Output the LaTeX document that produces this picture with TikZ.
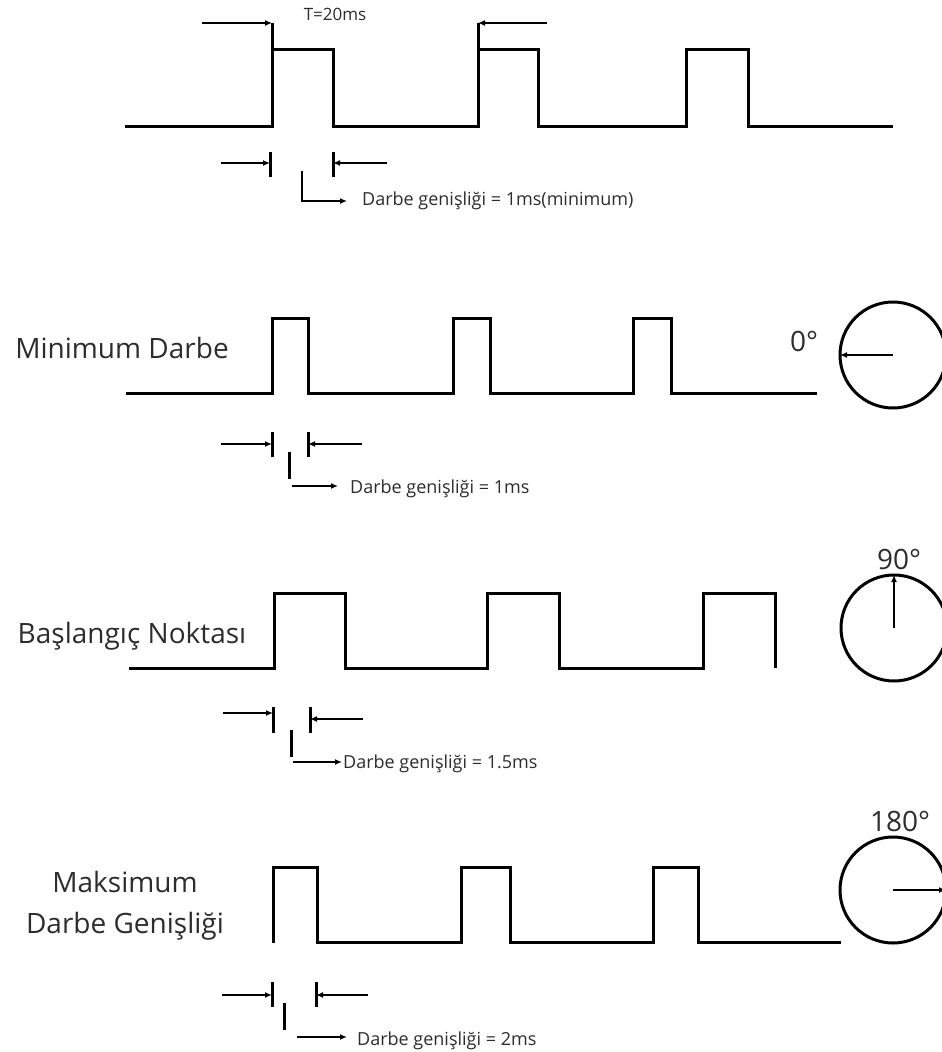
\documentclass[tikz,border=0pt]{standalone}
\usepackage{fontspec}
\setmainfont{Open Sans}
\usetikzlibrary{arrows.meta}
\definecolor{textgray}{RGB}{45,45,45}
\tikzstyle{wave} = [draw, line width=3pt]
\tikzstyle{edgebar} = [draw, line width=3pt]
\tikzstyle{dimarrow} = [draw, line width=2.4pt, ->]
\tikzstyle{dial} = [draw, line width=3pt]
\tikzstyle{lbl} = [text=textgray, font=\fontsize{28}{32}\selectfont, anchor=base, inner sep=0pt]
\tikzstyle{note} = [text=textgray, font=\fontsize{18}{20}\selectfont, anchor=base west, inner sep=0pt]

\begin{document}
\begin{tikzpicture}[x=1pt, y=-1pt, >={Latex[length=7pt,width=6pt]}]
    \useasboundingbox (0,0) rectangle (942,1052);

    % period
    \draw [wave] (125,126) -- (272,126) -- (272,49) -- (333,49) -- (333,126) -- (478,126) -- (478,49) -- (538,49) -- (538,126) -- (686,126) -- (686,49) -- (748,49) -- (748,126) -- (893,126);
    \coordinate (tstart) at (272,23);
    \coordinate (tend) at (478,23);
    \coordinate (tleft) at (202,23);
    \coordinate (tright) at (547,23);
    \draw [wave] (272,49) -- (tstart);
    \draw [wave] (478,49) -- (tend);
    \draw [dimarrow] (tleft) -- (tstart);
    \draw [dimarrow] (tright) -- (tend);
    \node [note, anchor=base, font=\fontsize{17}{20}\selectfont] (period) at (335,20) {T=20ms};
    \coordinate (aw1) at (221,163);
    \coordinate (bw1) at (270,163);
    \coordinate (cw1) at (333,163);
    \coordinate (dw1) at (387,163);
    \draw [dimarrow] (aw1) -- (bw1);
    \draw [dimarrow] (dw1) -- (cw1);
    \draw [edgebar] (270,152) -- (270,177);
    \draw [edgebar] (333,152) -- (333,177);
    \node [note] (width1) at (362,205) {Darbe genişliği = 1ms(minimum)};
    \coordinate (lw1) at (302,171);
    \coordinate (ew1) at (347,201);
    \draw [dimarrow] (lw1) |- (ew1);

    % minimum
    \node [lbl] (minlbl) at (122,358) {Minimum Darbe};
    \draw [wave] (126,393) -- (272,393) -- (272,318) -- (308,318) -- (308,393) -- (453,393) -- (453,318) -- (490,318) -- (490,393) -- (633,393) -- (633,318) -- (671,318) -- (671,393) -- (817,393);
    \coordinate (aw2) at (221,444);
    \coordinate (bw2) at (272,444);
    \coordinate (cw2) at (308,444);
    \coordinate (dw2) at (362,444);
    \draw [dimarrow] (aw2) -- (bw2);
    \draw [dimarrow] (dw2) -- (cw2);
    \draw [edgebar] (272,432) -- (272,457);
    \draw [edgebar] (308,432) -- (308,457);
    \draw [edgebar] (289,452) -- (289,479);
    \node [note] (width2) at (350,493) {Darbe genişliği = 1ms};
    \coordinate (lw2) at (292,486);
    \coordinate (ew2) at (338,486);
    \draw [dimarrow] (lw2) -- (ew2);
    \coordinate (hub0) at (893,355);
    \draw [dial] (hub0) circle [radius=53pt];
    \draw [dimarrow] (hub0) -- ++(-53,0) coordinate (pt0);
    \node [lbl] (deg0) at (804,351) {0°};

    % middle
    \node [lbl] (midlbl) at (132,643) {Başlangıç Noktası};
    \draw [wave] (129,668) -- (274,668) -- (274,593) -- (345,593) -- (345,668) -- (487,668) -- (487,593) -- (559,593) -- (559,668) -- (703,668) -- (703,593) -- (775,593) -- (775,668);
    \coordinate (aw3) at (223,713);
    \coordinate (bw3) at (273,713);
    \coordinate (cw3) at (310,719);
    \coordinate (dw3) at (363,719);
    \draw [dimarrow] (aw3) -- (bw3);
    \draw [dimarrow] (dw3) -- (cw3);
    \draw [edgebar] (273,707) -- (273,733);
    \draw [edgebar] (310,707) -- (310,733);
    \draw [edgebar] (291,730) -- (291,757);
    \node [note] (width3) at (343,768) {Darbe genişliği = 1.5ms};
    \coordinate (lw3) at (293,762);
    \coordinate (ew3) at (342,762);
    \draw [dimarrow] (lw3) -- (ew3);
    \coordinate (hub90) at (894,628);
    \draw [dial] (hub90) circle [radius=53pt];
    \draw [dimarrow] (hub90) -- ++(0,-53) coordinate (pt90);
    \node [lbl] (deg90) at (899,569) {90°};

    % maximum
    \node [lbl] (maxlbl) at (125,892) {Maksimum};
    \node [lbl] (maxlbl2) at (125,933) {Darbe Genişliği};
    \draw [wave] (273,943) -- (273,867) -- (317,867) -- (317,942) -- (461,942) -- (461,867) -- (510,867) -- (510,942) -- (653,942) -- (653,867) -- (698,867) -- (698,942) -- (841,942);
    \coordinate (aw4) at (222,995);
    \coordinate (bw4) at (272,995);
    \coordinate (cw4) at (316,995);
    \coordinate (dw4) at (368,995);
    \draw [dimarrow] (aw4) -- (bw4);
    \draw [dimarrow] (dw4) -- (cw4);
    \draw [edgebar] (272,982) -- (272,1007);
    \draw [edgebar] (316,982) -- (316,1007);
    \draw [edgebar] (284,1003) -- (284,1030);
    \node [note] (width4) at (357,1045) {Darbe genişliği = 2ms};
    \coordinate (lw4) at (297,1037);
    \coordinate (ew4) at (347,1037);
    \draw [dimarrow] (lw4) -- (ew4);
    \coordinate (hub180) at (893,890);
    \draw [dial] (hub180) circle [radius=53pt];
    \draw [dimarrow] (hub180) -- ++(53,0) coordinate (pt180);
    \node [lbl] (deg180) at (900,831) {180°};
\end{tikzpicture}
\end{document}
